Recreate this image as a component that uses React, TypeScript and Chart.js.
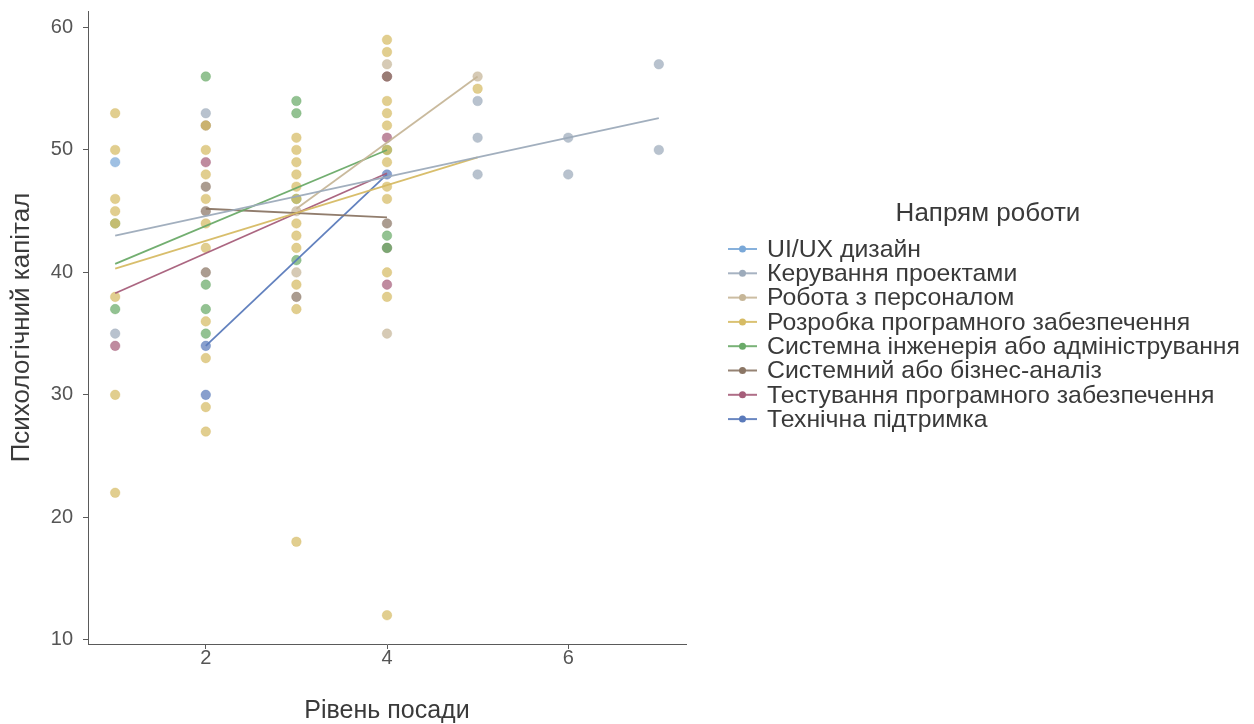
import { useEffect, useRef } from 'react';
import { Chart, registerables } from 'chart.js';

Chart.register(...registerables);

const FONT = '"Liberation Sans", Arial, sans-serif';

const legendTitle = 'Напрям роботи';
const xTitle = 'Рівень посади';
const yTitle = 'Психологічний капітал';

const groups = [
  'UI/UX дизайн',
  'Керування проектами',
  'Робота з персоналом',
  'Розробка програмного забезпечення',
  'Системна інженерія або адміністрування',
  'Системний або бізнес-аналіз',
  'Тестування програмного забезпечення',
  'Технічна підтримка',
];
const colors = ['#7aa8d8', '#9dabbb', '#c6b698', '#d6bb64', '#6aaa68', '#8b7665', '#a65e7a', '#5a7aba'];

const xTicks = [2, 4, 6];
const yTicks = [10, 20, 30, 40, 50, 60];

// Observations per group: job level (x) and psychological capital (y)
const uxX = [1];
const uxY = [49];
const pmX = [1, 2, 5, 5, 5, 6, 6, 7, 7];
const pmY = [35, 53, 54, 51, 48, 51, 48, 57, 50];
const hrX = [3, 3, 4, 4, 5];
const hrY = [45, 40, 57, 35, 56];
const devX = [
  1, 1, 1, 1, 1, 1, 1, 1,
  2, 2, 2, 2, 2, 2, 2, 2, 2, 2,
  3, 3, 3, 3, 3, 3, 3, 3, 3, 3, 3, 3,
  4, 4, 4, 4, 4, 4, 4, 4, 4, 4, 4, 4,
  5,
];
const devY = [
  53, 50, 46, 45, 44, 38, 30, 22,
  52, 50, 48, 46, 44, 42, 36, 33, 29, 27,
  51, 50, 49, 48, 47, 46, 44, 43, 42, 39, 37, 18,
  59, 58, 54, 53, 52, 50, 49, 47, 46, 40, 38, 12,
  55,
];
const sysX = [1, 1, 2, 2, 2, 2, 3, 3, 3, 3, 4, 4, 4];
const sysY = [44, 37, 56, 39, 37, 35, 54, 53, 46, 41, 50, 43, 42];
const baX = [2, 2, 2, 2, 3, 4, 4, 4];
const baY = [52, 47, 45, 40, 38, 56, 44, 42];
const qaX = [1, 2, 4, 4, 4];
const qaY = [34, 49, 56, 51, 39];
const tsX = [2, 2, 4];
const tsY = [34, 30, 48];

// Linear trend per group, drawn over the group's x range (null = no trend)
const trendX: (number[] | null)[] = [null, [1, 7], [3, 5], [1, 5], [1, 4], [2, 4], [1, 4], [2, 4]];
const trendY: (number[] | null)[] = [
  null,
  [43.0, 52.6],
  [45.2, 56.0],
  [40.3, 49.4],
  [40.7, 50.0],
  [45.2, 44.5],
  [38.3, 48.1],
  [34.0, 48.0],
];

const pointsX = [uxX, pmX, hrX, devX, sysX, baX, qaX, tsX];
const pointsY = [uxY, pmY, hrY, devY, sysY, baY, qaY, tsY];

function withAlpha(hex: string, a: number) {
  const n = parseInt(hex.slice(1), 16);
  return `rgba(${(n >> 16) & 255},${(n >> 8) & 255},${n & 255},${a})`;
}

const legendPlugin = {
  id: 'groupLegend',
  afterDraw(chart: Chart) {
    const { ctx, chartArea } = chart;
    const left = chartArea.right + 42;
    ctx.save();
    ctx.font = `26px ${FONT}`;
    ctx.fillStyle = '#3a3a3a';
    ctx.textAlign = 'center';
    ctx.textBaseline = 'middle';
    ctx.fillText(legendTitle, left + 260, 214);
    ctx.textAlign = 'left';
    ctx.font = `24.8px ${FONT}`;
    groups.forEach((name, i) => {
      const y = 249 + i * 24.3;
      ctx.strokeStyle = withAlpha(colors[i], 0.9);
      ctx.lineWidth = 2;
      ctx.beginPath();
      ctx.moveTo(left, y);
      ctx.lineTo(left + 29, y);
      ctx.stroke();
      ctx.fillStyle = colors[i];
      ctx.beginPath();
      ctx.arc(left + 14.5, y, 3.5, 0, Math.PI * 2);
      ctx.fill();
      ctx.fillStyle = '#3a3a3a';
      ctx.fillText(name, left + 39, y + 1);
    });
    ctx.restore();
  },
};

export default function App() {
  const ref = useRef<HTMLCanvasElement>(null);

  useEffect(() => {
    if (!ref.current) return;
    const datasets: any[] = [];
    groups.forEach((name, i) => {
      datasets.push({
        type: 'scatter',
        label: name,
        data: pointsX[i].map((x, k) => ({ x, y: pointsY[i][k] })),
        backgroundColor: withAlpha(colors[i], 0.72),
        borderColor: withAlpha(colors[i], 0.35),
        borderWidth: 1,
        pointRadius: 4.8,
        order: 2,
      });
    });
    groups.forEach((name, i) => {
      const tx = trendX[i];
      const ty = trendY[i];
      if (!tx || !ty) return;
      datasets.push({
        type: 'line',
        label: name + ' (trend)',
        data: tx.map((x, k) => ({ x, y: ty[k] })),
        borderColor: withAlpha(colors[i], 0.95),
        borderWidth: 1.8,
        pointRadius: 0,
        fill: false,
        order: 1,
      });
    });

    const chart = new Chart(ref.current, {
      type: 'scatter',
      data: { datasets },
      plugins: [legendPlugin],
      options: {
        animation: false,
        responsive: false,
        devicePixelRatio: 1,
        layout: { padding: { left: 0, top: 11, right: 568, bottom: 0 } },
        plugins: { legend: { display: false }, tooltip: { enabled: false } },
        scales: {
          x: {
            type: 'linear',
            min: 0.7,
            max: 7.3,
            afterBuildTicks: (s: any) => {
              s.ticks = xTicks.map((v) => ({ value: v }));
            },
            afterFit: (s: any) => {
              s.height = 80;
              s.paddingLeft = 0;
              s.paddingRight = 0;
            },
            grid: { display: true, drawOnChartArea: false, drawTicks: true, tickLength: 5, color: '#5a5a5a' },
            border: { display: true, color: '#5a5a5a', width: 1 },
            ticks: { color: '#555555', font: { family: FONT, size: 20, lineHeight: 1 }, padding: -1 },
            title: {
              display: true,
              text: xTitle,
              color: '#3a3a3a',
              font: { family: FONT, size: 25, lineHeight: 1 },
              padding: { top: 0, bottom: 0 },
            },
          },
          y: {
            type: 'linear',
            min: 9.65,
            max: 61.35,
            afterBuildTicks: (s: any) => {
              s.ticks = yTicks.map((v) => ({ value: v }));
            },
            afterFit: (s: any) => {
              s.width = 88;
              s.paddingTop = 0;
              s.paddingBottom = 0;
            },
            grid: { display: true, drawOnChartArea: false, drawTicks: true, tickLength: 5, color: '#5a5a5a' },
            border: { display: true, color: '#5a5a5a', width: 1 },
            ticks: { color: '#555555', font: { family: FONT, size: 20, lineHeight: 1 }, padding: 10 },
            title: {
              display: true,
              text: yTitle,
              color: '#3a3a3a',
              font: { family: FONT, size: 26, lineHeight: 1 },
              padding: { top: 9, bottom: 0 },
            },
          },
        },
      },
    });
    return () => chart.destroy();
  }, []);

  return (
    <div style={{ position: 'absolute', left: 0, top: 0, width: 1254, height: 724, background: '#ffffff' }}>
      <canvas ref={ref} width={1254} height={724} style={{ width: 1254, height: 724 }} />
    </div>
  );
}
